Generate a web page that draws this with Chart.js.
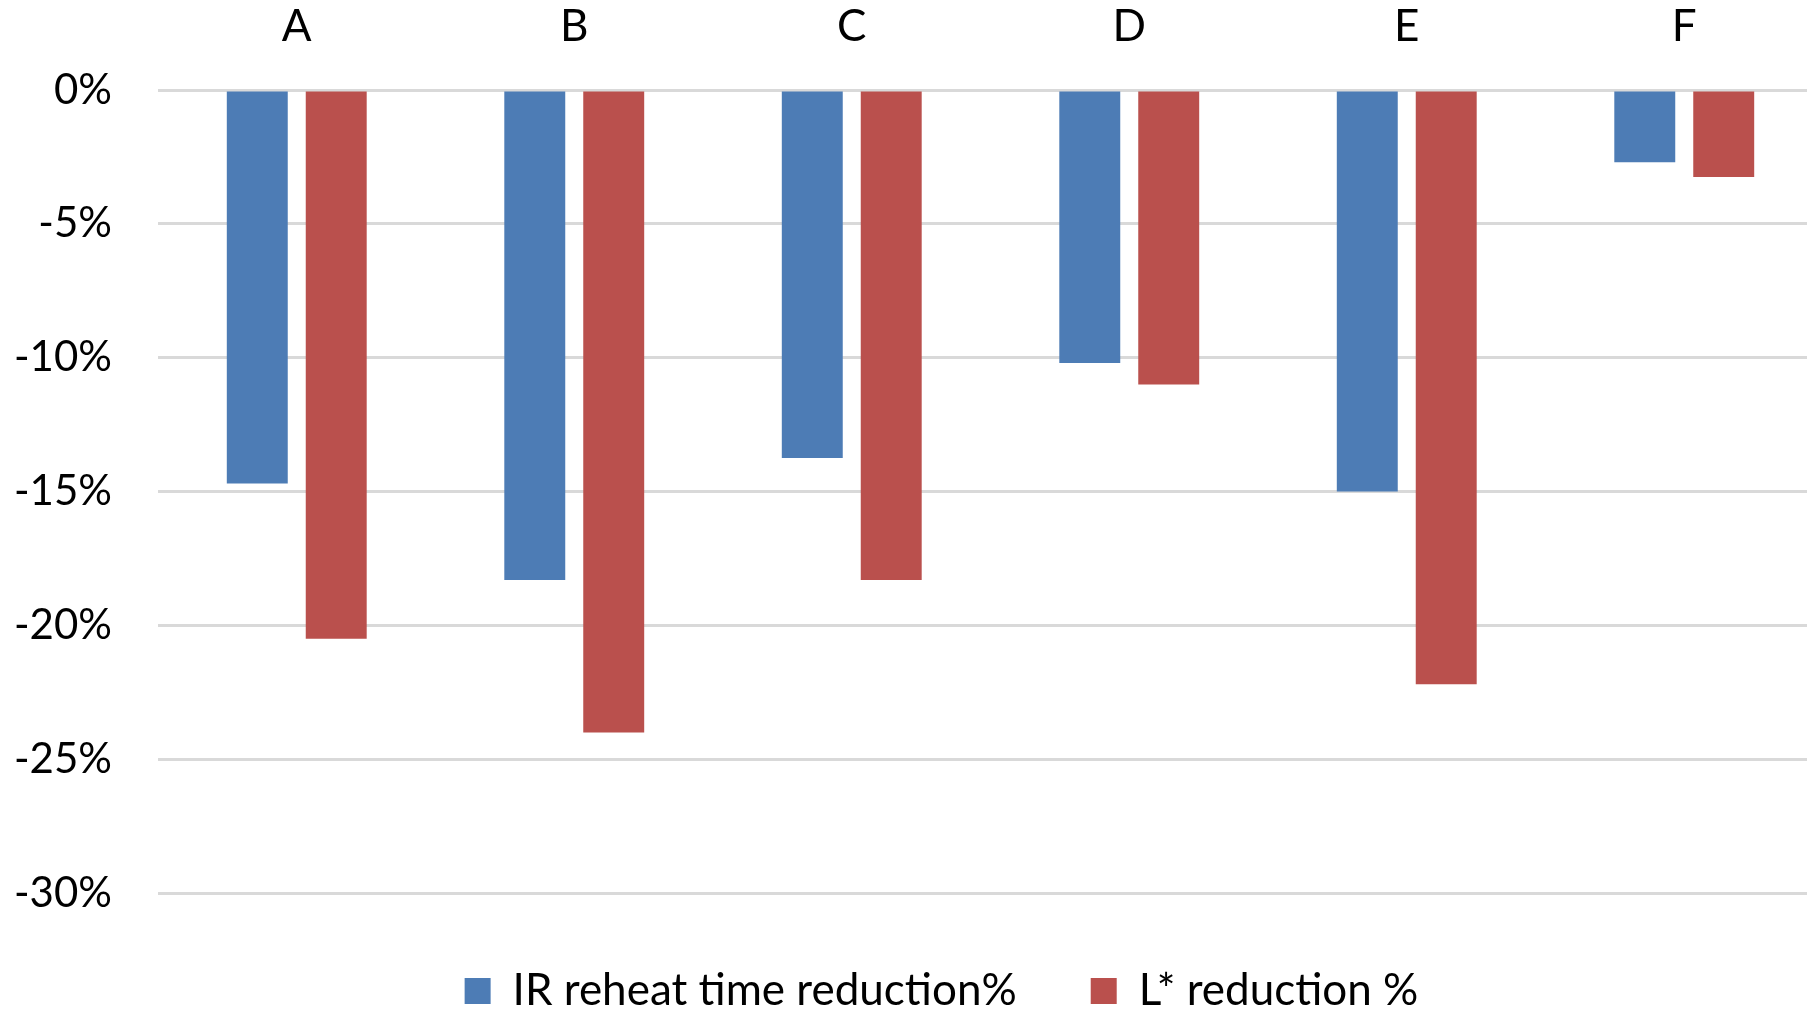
<!DOCTYPE html>
<html>
<head>
<meta charset="utf-8">
<script src="https://cdn.jsdelivr.net/npm/chart.js@4"></script>
<style>
  html, body { margin: 0; padding: 0; background: #fff; overflow: hidden; }
  #wrap { width: 1830px; height: 1023px; }
</style>
</head>
<body>
<div id="wrap"><canvas id="reductionChart" width="1830" height="1023"></canvas></div>
<script>
const categories = ["A", "B", "C", "D", "E", "F"];
const irReheat = [-14.7, -18.3, -13.75, -10.2, -15.0, -2.7];
const lReduction = [-20.5, -24.0, -18.3, -11.0, -22.2, -3.25];
const seriesNames = ["IR reheat time reduction%", "L* reduction %"];

const FONT = "Lato, 'Liberation Sans', sans-serif";
const FONT_SIZE = 44;

// nudge the legend a bit right so it sits under the middle like the original
const legendShift = {
    id: "legendShift",
    afterLayout(chart) {
        chart.legend.left += 30;
        chart.legend.right += 30;
    }
};

let ctx = document.getElementById("reductionChart").getContext("2d");

new Chart(ctx, {
    type: "bar",
    data: {
        labels: categories,
        datasets: [{
            label: seriesNames[0],
            data: irReheat,
            backgroundColor: "#4d7cb5",
            categoryPercentage: 0.569,
            barPercentage: 0.772
        }, {
            label: seriesNames[1],
            data: lReduction,
            backgroundColor: "#ba504d",
            categoryPercentage: 0.569,
            barPercentage: 0.772
        }]
    },
    plugins: [legendShift],
    options: {
        responsive: false,
        animation: false,
        layout: { padding: { left: 0, right: 7, top: 1, bottom: 0 } },
        plugins: {
            tooltip: { enabled: false },
            legend: {
                position: "bottom",
                labels: {
                    boxWidth: 26,
                    boxHeight: 26,
                    padding: 74,
                    color: "#000",
                    font: { family: FONT, size: FONT_SIZE }
                }
            }
        },
        scales: {
            x: {
                position: "top",
                grid: { display: false, drawTicks: false },
                border: { display: false },
                ticks: {
                    padding: 37,
                    color: "#000",
                    font: { family: FONT, size: FONT_SIZE }
                },
                afterFit: axis => { axis.height = 89; }
            },
            y: {
                min: -30.07,
                max: 0,
                grid: { color: "#d9d9d9", lineWidth: 3, drawTicks: false },
                border: { display: false },
                ticks: {
                    stepSize: 5,
                    includeBounds: false,
                    padding: 46,
                    color: "#000",
                    font: { family: FONT, size: 42 },
                    callback: v => v + "%"
                },
                afterFit: axis => { axis.width = 158; }
            }
        }
    }
});
</script>
</body>
</html>
